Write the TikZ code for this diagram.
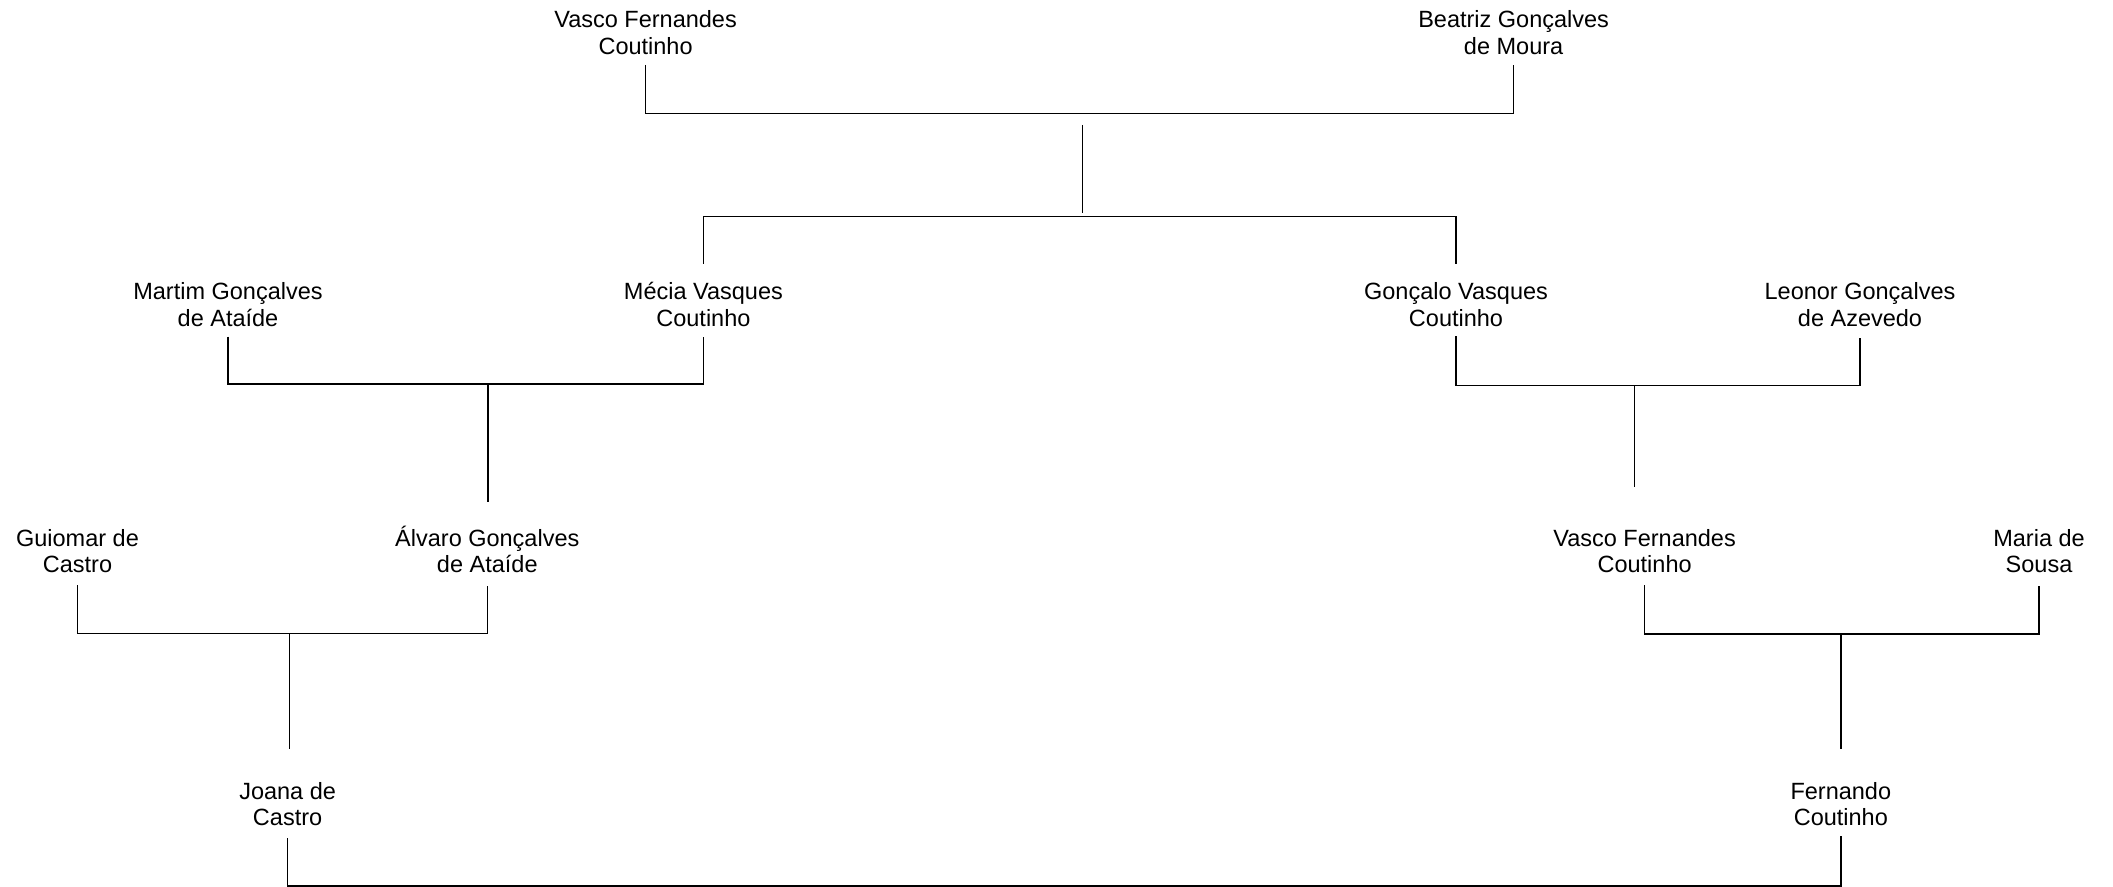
\documentclass[tikz,border=0pt]{standalone}
\usepackage{fontspec}
\setmainfont{Liberation Sans}
\begin{document}
\begin{tikzpicture}[x=0.5pt,y=-0.5pt,
  person/.style={anchor=south, inner sep=0pt, align=center,
    font=\fontsize{11.75pt}{13.35pt}\selectfont},
  link/.style={line width=0.75pt, black}]
\useasboundingbox (0,0) rectangle (2113,887);
% people
\node[person] (vf1) at (645.6,55)   {Vasco Fernandes\\Coutinho};
\node[person] (bz)  at (1513.6,55)  {Beatriz Gonçalves\\de Moura};
\node[person] (mg)  at (228,327.3)  {Martim Gonçalves\\de Ataíde};
\node[person] (mv)  at (703.4,327.3) {Mécia Vasques\\Coutinho};
\node[person] (gv)  at (1456,327.3) {Gonçalo Vasques\\Coutinho};
\node[person] (lg)  at (1860,327.3) {Leonor Gonçalves\\de Azevedo};
\node[person] (gc)  at (77.5,573.5) {Guiomar de\\Castro};
\node[person] (ag)  at (487.3,573.5) {Álvaro Gonçalves\\de Ataíde};
\node[person] (vf2) at (1644.6,573.5) {Vasco Fernandes\\Coutinho};
\node[person] (ms)  at (2039,573.5) {Maria de\\Sousa};
\node[person] (jc)  at (287.6,826.5) {Joana de\\Castro};
\node[person] (fc)  at (1840.8,826.5) {Fernando\\Coutinho};
% drop coordinates
\coordinate (d1a) at (1082.6,125);
\coordinate (d1b) at (1082.6,212.7);
\coordinate (d2a) at (487.8,384);
\coordinate (d2b) at (487.8,502);
\coordinate (d3a) at (1634.6,385.3);
\coordinate (d3b) at (1634.6,487);
\coordinate (d4a) at (289.5,633.5);
\coordinate (d4b) at (289.5,749);
\coordinate (d5a) at (1841,634);
\coordinate (d5b) at (1841,749);
% couples
\draw[link] (vf1.south |- 0,65) |- (bz.south |- 0,113.3) -- (bz.south |- 0,65);
\draw[link] (mg.south |- 0,336.7) |- (mv.south |- 0,384) -- (mv.south |- 0,337);
\draw[link] (gv.south |- 0,336.5) |- (lg.south |- 0,385.3) -- (lg.south |- 0,338);
\draw[link] (gc.south |- 0,585) |- (ag.south |- 0,633.5) -- (ag.south |- 0,586);
\draw[link] (vf2.south |- 0,585) |- (ms.south |- 0,634) -- (ms.south |- 0,586);
\draw[link] (jc.south |- 0,838) |- (fc.south |- 0,886) -- (fc.south |- 0,836);
% descent lines
\draw[link] (d1a) -- (d1b);
\draw[link] (mv.north |- 0,264) |- (gv.north |- 0,216.7) -- (gv.north |- 0,264);
\draw[link] (d2a) -- (d2b);
\draw[link] (d3a) -- (d3b);
\draw[link] (d4a) -- (d4b);
\draw[link] (d5a) -- (d5b);
\end{tikzpicture}
\end{document}
